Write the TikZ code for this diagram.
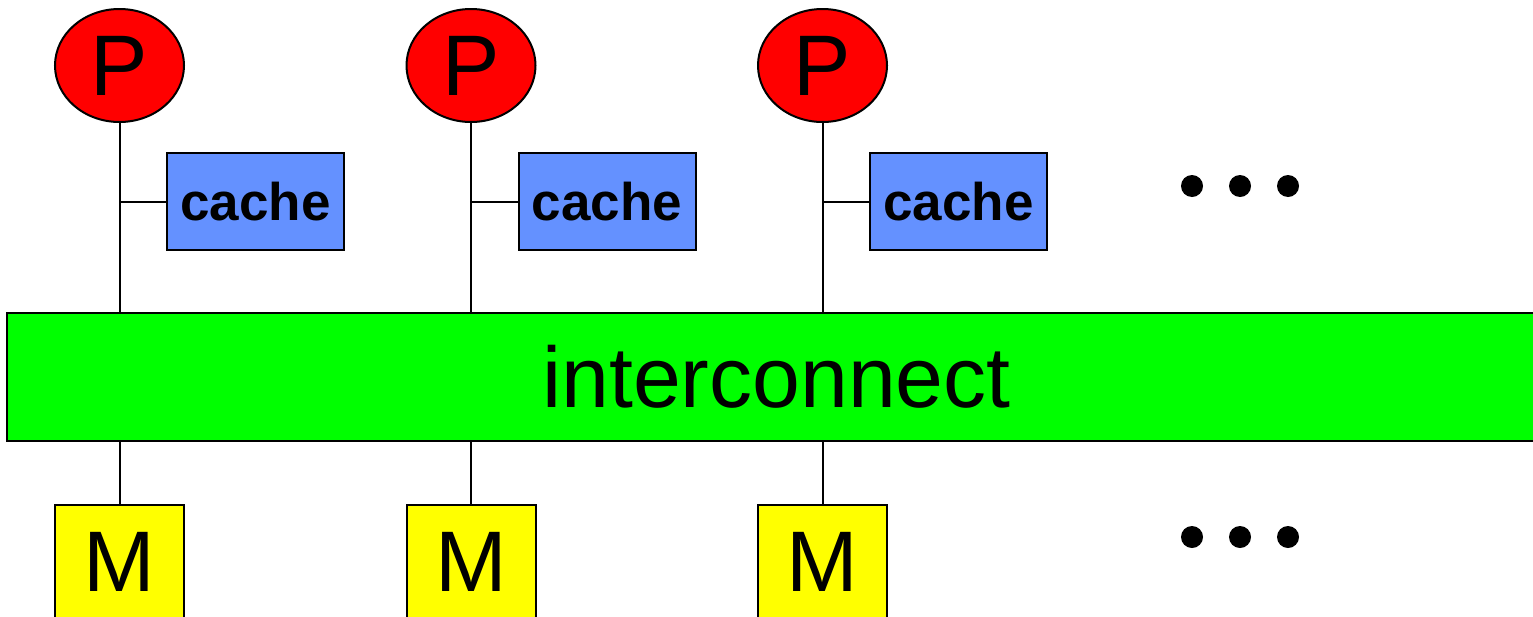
\documentclass[tikz,border=0pt]{standalone}
\usepackage{fontspec}
\setmainfont{Liberation Sans}
\usetikzlibrary{shapes.geometric}
\definecolor{pred}{RGB}{255,0,0}
\definecolor{cblue}{RGB}{100,145,255}
\definecolor{igreen}{RGB}{0,255,0}
\definecolor{myellow}{RGB}{255,255,0}
\tikzset{
  proc/.style={ellipse, draw=black, line width=2pt, fill=pred, inner sep=0pt,
    minimum width=129pt, minimum height=113pt, font=\fontsize{86}{86}\selectfont},
  cachebox/.style={rectangle, draw=black, line width=2pt, fill=cblue, inner sep=0pt,
    minimum width=177pt, minimum height=97pt, font=\fontsize{53}{53}\selectfont\bfseries},
  membox/.style={rectangle, draw=black, line width=2pt, fill=myellow, inner sep=0pt,
    minimum width=129pt, minimum height=113pt, font=\fontsize{86}{86}\selectfont},
  icbox/.style={rectangle, draw=black, line width=2pt, fill=igreen, inner sep=0pt,
    minimum width=1539pt, minimum height=128pt, font=\fontsize{86}{86}\selectfont},
  wire/.style={draw=black, line width=2pt},
  dotmark/.style={circle, fill=black, inner sep=0pt, minimum size=22pt}
}
\begin{document}
\begin{tikzpicture}[x=1pt,y=-1pt]
\useasboundingbox (0,0) rectangle (1533,616);
\clip (0,0) rectangle (1533,616);
\node[icbox] (ic) at (776.5,377) {interconnect};
\foreach \i/\x in {1/119.5,2/471,3/822.5}{
  \node[proc] (P\i) at (\x,65.5) {P};
  \node[cachebox] (C\i) at (\x+136,201.5) {cache};
  \node[membox] (M\i) at (\x,561.5) {M};
  \draw[wire] (P\i.south) -- (P\i.south |- ic.north);
  \draw[wire] (C\i.west) -- (C\i.west -| P\i.south);
  \draw[wire] (M\i.north) -- (M\i.north |- ic.south);
}
\node[dotmark] (d1) at (1192,186) {};
\node[dotmark] (d2) at (1240,186) {};
\node[dotmark] (d3) at (1288,186) {};
\node[dotmark] (e1) at (1192,537) {};
\node[dotmark] (e2) at (1240,537) {};
\node[dotmark] (e3) at (1288,537) {};
\end{tikzpicture}
\end{document}
